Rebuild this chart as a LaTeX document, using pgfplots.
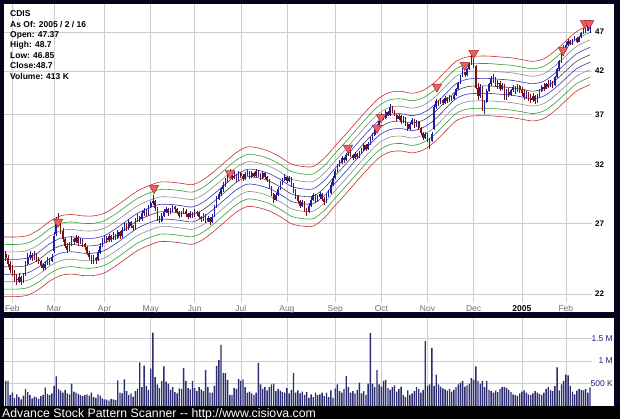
\documentclass[border=0pt]{standalone}
\usepackage{fontspec}
\setmainfont{Liberation Sans}
\usepackage{xcolor}
\usepackage{pgfplots}
\usepackage{pgfplotstable}
\pgfplotsset{compat=1.18}

\definecolor{frame}{RGB}{4,4,30}
\definecolor{gridc}{RGB}{205,205,205}
\definecolor{upc}{RGB}{30,30,160}
\definecolor{dnc}{RGB}{124,16,16}
\definecolor{bred}{RGB}{200,48,48}
\definecolor{bgreen}{RGB}{48,160,48}
\definecolor{bgray}{RGB}{140,140,140}
\definecolor{bblue}{RGB}{53,53,192}
\definecolor{bmid}{RGB}{70,70,70}
\definecolor{volc}{RGB}{44,44,112}
\definecolor{voltxt}{RGB}{32,32,128}
\definecolor{trifill}{RGB}{232,96,96}
\definecolor{tridraw}{RGB}{170,40,40}

% day index (0 = 2 Feb 2004), open, high, low, close, volume in K
\pgfplotstableread{
i o h l c v
-3 24.7 24.9 24.2 24.4 560
-2 24.4 24.6 23.8 24.0 560
-1 24.0 24.2 23.4 23.6 240
0 23.7 23.9 23.2 23.5 300
1 23.5 23.6 22.8 23.0 180
2 23.0 23.3 22.6 22.9 260
3 22.8 23.4 22.7 23.1 200
4 23.1 23.2 22.6 22.8 150
5 22.8 23.4 22.7 23.2 230
6 23.3 24.2 23.2 24.0 380
7 24.0 24.8 23.9 24.5 310
8 24.5 24.9 24.3 24.6 240
9 24.6 24.8 24.2 24.4 170
10 24.4 24.9 24.3 24.7 210
11 24.7 24.8 24.1 24.3 190
12 24.3 24.5 24.0 24.2 160
13 24.2 24.3 23.7 23.9 220
14 23.9 24.0 23.5 23.7 250
15 23.7 24.2 23.6 24.0 410
16 24.0 24.5 23.9 24.3 270
17 24.3 24.4 23.9 24.2 240
18 24.2 24.7 24.1 24.5 280
19 24.9 26.3 24.8 26.0 450
20 26.2 27.5 26.0 27.3 660
21 27.3 27.8 26.8 27.0 380
22 27.0 27.1 26.2 26.4 340
23 26.4 26.6 25.6 25.8 300
24 25.8 25.9 25.1 25.3 360
25 25.3 25.5 24.8 25.0 280
26 25.0 25.6 24.9 25.4 260
27 25.4 26.0 25.3 25.8 500
28 25.8 25.9 25.4 25.6 320
29 25.6 26.1 25.5 25.9 300
30 25.9 26.0 25.3 25.5 270
31 25.5 25.9 25.4 25.7 250
32 25.7 25.8 25.2 25.4 220
33 25.4 25.5 25.0 25.2 240
34 25.2 25.3 24.6 24.8 260
35 24.8 24.9 24.3 24.5 230
36 24.5 24.6 24.0 24.2 300
37 24.2 24.6 24.0 24.4 200
38 24.4 24.5 24.0 24.3 180
39 24.3 25.0 24.2 24.8 260
40 24.8 25.5 24.7 25.3 230
41 25.3 25.9 25.2 25.7 170
42 25.7 26.1 25.5 25.9 150
43 25.9 26.0 25.5 25.7 140
44 25.7 26.2 25.6 26.0 120
45 26.0 26.1 25.6 25.8 160
46 25.8 26.3 25.7 26.1 150
47 26.1 26.2 25.7 25.9 130
48 25.9 26.5 25.8 26.3 570
49 26.3 26.4 25.8 26.0 300
50 26.0 26.7 25.9 26.5 280
51 26.5 27.1 26.4 26.9 590
52 26.9 27.0 26.4 26.6 330
53 26.6 27.3 26.5 27.1 240
54 27.1 27.2 26.6 26.8 280
55 26.8 26.9 26.4 26.6 210
56 26.6 27.4 26.5 27.2 330
57 27.2 27.7 27.1 27.5 380
58 27.5 27.6 27.1 27.3 970
59 27.3 28.0 27.2 27.8 420
60 27.8 28.2 27.6 28.0 900
61 28.0 28.1 27.5 27.7 450
62 27.7 28.5 27.6 28.3 360
63 28.3 28.8 28.2 28.6 830
64 28.6 29.3 28.5 28.8 1630
65 28.8 28.9 28.0 28.2 640
66 28.2 28.3 27.2 27.4 480
67 27.4 27.6 27.0 27.2 400
68 27.2 27.8 27.1 27.6 560
69 27.6 28.1 27.5 27.9 880
70 27.9 28.3 27.8 28.1 540
71 28.1 28.2 27.6 27.8 500
72 27.8 28.2 27.7 28.0 360
73 28.0 28.5 27.9 28.3 420
74 28.3 28.4 27.9 28.1 310
75 28.1 28.2 27.7 27.9 280
76 27.9 28.0 27.4 27.6 390
77 27.6 28.0 27.5 27.8 380
78 27.8 28.2 27.7 28.0 840
79 28.0 28.1 27.5 27.7 560
80 27.7 27.8 27.3 27.5 400
81 27.5 28.0 27.4 27.8 370
82 27.8 27.9 27.4 27.6 560
83 27.6 28.1 27.5 27.9 400
84 27.9 28.0 27.6 27.8 330
85 27.8 27.9 27.3 27.5 420
86 27.5 27.6 27.1 27.3 370
87 27.3 27.8 27.2 27.6 330
88 27.6 27.7 27.0 27.2 800
89 27.2 27.6 27.1 27.4 420
90 27.4 27.5 26.9 27.1 300
91 27.1 27.7 27.0 27.5 300
92 27.6 28.5 27.5 28.3 450
93 28.3 29.2 28.2 29.0 890
94 29.0 29.6 28.9 29.4 1020
95 29.4 30.0 29.2 29.8 1360
96 29.8 30.4 29.6 30.2 730
97 30.2 30.8 30.0 30.6 730
98 30.6 31.1 30.4 30.9 580
99 30.9 31.6 30.8 31.3 240
100 31.3 31.4 30.6 30.8 250
101 30.8 31.3 30.7 31.0 400
102 31.0 31.1 30.4 30.6 380
103 30.6 31.4 30.5 31.2 600
104 31.2 31.3 30.8 31.0 560
105 31.0 31.1 30.5 30.7 590
106 30.7 31.3 30.6 31.1 420
107 31.1 31.5 31.0 31.3 300
108 31.3 31.4 30.7 30.9 320
109 30.9 31.4 30.8 31.2 280
110 31.2 31.3 30.8 31.0 250
111 31.0 31.6 30.9 31.4 300
112 31.4 31.5 30.9 31.1 960
113 31.1 31.2 30.6 30.8 480
114 30.8 31.4 30.7 31.2 380
115 31.2 31.3 30.7 30.9 420
116 30.9 31.0 30.4 30.6 350
117 30.6 30.7 29.8 30.0 420
118 30.0 30.1 29.2 29.4 480
119 29.4 29.5 28.6 28.9 500
120 28.9 29.5 28.8 29.3 330
121 29.3 30.0 29.2 29.8 380
122 29.8 30.5 29.7 30.3 340
123 30.3 30.8 30.2 30.6 310
124 30.6 31.1 30.5 30.9 300
125 30.9 31.0 30.3 30.5 400
126 30.5 31.0 30.4 30.8 280
127 30.8 30.9 30.0 30.2 360
128 30.2 30.3 29.5 29.7 730
129 29.7 29.8 29.0 29.2 300
130 29.2 29.3 28.6 28.8 350
131 28.8 28.9 28.2 28.4 280
132 28.4 28.9 28.3 28.7 320
133 28.7 28.8 27.9 28.1 250
134 28.1 28.2 27.6 27.9 310
135 27.9 28.6 27.8 28.4 180
136 28.4 29.1 28.3 28.9 260
137 28.9 29.5 28.8 29.3 200
138 29.3 29.4 28.6 28.8 300
139 28.8 29.3 28.7 29.1 240
140 29.1 29.6 29.0 29.4 260
141 29.4 29.5 28.8 29.0 300
142 29.0 29.1 28.5 28.7 220
143 28.7 29.4 28.6 29.2 300
144 29.2 29.7 29.1 29.5 200
145 29.5 30.4 29.4 30.2 350
146 30.2 31.0 30.1 30.8 180
147 30.8 31.6 30.7 31.4 390
148 31.4 32.1 31.3 31.9 480
149 31.9 32.4 31.8 32.2 330
150 32.2 32.8 32.1 32.6 300
151 32.6 32.7 32.2 32.4 380
152 32.4 33.1 32.3 32.9 670
153 32.9 33.6 32.8 33.3 420
154 33.3 33.4 32.7 32.9 300
155 32.9 33.0 32.4 32.6 330
156 32.6 33.2 32.5 33.0 280
157 33.0 33.1 32.5 32.7 360
158 32.7 33.3 32.6 33.1 520
159 33.1 33.6 33.0 33.4 280
160 33.4 34.1 33.3 33.9 330
161 33.9 34.0 33.3 33.5 250
162 33.5 34.2 33.4 34.0 500
163 34.0 34.7 33.9 34.5 1620
164 34.5 35.1 34.4 34.9 500
165 34.9 35.6 34.8 35.4 420
166 35.4 36.0 35.3 35.8 800
167 35.8 36.5 35.7 36.3 480
168 36.3 37.2 36.2 37.0 430
169 37.0 37.1 36.4 36.6 560
170 36.6 37.5 36.5 37.3 580
171 37.3 37.4 36.8 37.0 400
172 37.0 38.2 36.9 37.8 360
173 37.8 37.9 37.2 37.4 420
174 37.4 37.5 36.8 37.0 460
175 37.0 37.1 36.3 36.5 320
176 36.5 37.1 36.4 36.9 380
177 36.9 37.0 36.0 36.2 430
178 36.2 36.8 36.1 36.6 250
179 36.6 36.7 35.8 36.0 200
180 36.0 36.1 35.3 35.5 350
181 35.5 36.2 35.4 36.0 250
182 36.0 36.6 35.9 36.4 280
183 36.4 36.5 35.6 35.8 330
184 35.8 36.4 35.7 36.2 420
185 36.2 36.3 35.4 35.6 380
186 35.6 35.7 34.9 35.1 300
187 35.1 35.2 34.4 34.6 360
188 34.6 35.2 34.5 35.0 1440
189 35.0 35.1 34.2 34.5 450
190 34.5 34.6 33.5 34.3 480
191 34.3 35.2 34.2 35.0 1290
192 35.5 38.0 35.4 37.8 450
193 37.8 38.7 37.6 38.5 700
194 38.5 38.6 37.9 38.2 480
195 38.2 38.8 38.1 38.6 430
196 38.6 38.7 38.0 38.3 390
197 38.3 39.0 38.2 38.8 370
198 38.8 38.9 38.3 38.5 340
199 38.5 39.2 38.4 39.0 380
200 39.0 39.1 38.5 38.7 320
201 38.7 39.4 38.6 39.2 360
202 39.2 40.0 39.1 39.8 420
203 39.8 40.7 39.7 40.5 480
204 40.5 41.5 40.4 41.3 520
205 41.3 42.3 41.2 41.8 560
206 41.8 41.9 41.2 41.5 430
207 41.5 42.4 41.4 42.2 460
208 42.2 43.0 42.1 42.8 500
209 42.8 44.0 42.7 43.5 620
210 43.5 43.6 42.4 42.6 580
211 42.6 42.7 39.8 40.0 880
212 40.0 40.6 38.6 39.0 560
213 39.0 40.4 38.8 40.1 500
214 40.1 40.2 37.4 37.8 560
215 37.8 38.6 37.1 38.4 420
216 38.4 39.8 38.3 39.6 560
217 39.6 40.6 39.5 40.4 360
218 40.4 41.4 40.2 41.0 330
219 41.0 41.6 40.5 40.8 300
220 40.8 41.2 40.1 40.4 340
221 40.4 40.9 39.8 40.6 310
222 40.6 40.8 39.6 39.9 380
223 39.9 40.5 39.7 40.3 420
224 40.3 40.4 38.6 38.9 420
225 38.9 39.8 38.6 39.5 400
226 39.5 40.0 38.9 39.2 360
227 39.2 39.9 39.0 39.7 310
228 39.7 40.3 39.5 40.1 260
229 40.1 40.2 39.3 39.6 240
230 39.6 40.4 39.5 40.2 220
231 40.2 40.3 39.4 39.7 280
232 39.7 40.1 39.1 39.4 320
233 39.4 39.8 38.6 38.9 350
234 38.9 39.6 38.7 39.4 300
235 39.4 39.5 38.5 38.8 260
236 38.8 39.3 38.3 38.6 240
237 38.6 39.4 38.4 39.1 280
238 39.1 39.2 38.2 38.5 330
239 38.5 39.3 38.3 39.0 300
240 39.0 39.8 38.9 39.6 270
241 39.6 40.3 39.5 40.1 250
242 40.1 40.5 39.6 39.9 300
243 39.9 40.6 39.8 40.4 380
244 40.4 40.9 40.0 40.2 420
245 40.2 40.9 40.1 40.7 360
246 40.7 40.8 40.0 40.3 330
247 40.3 41.4 40.2 41.2 450
248 41.2 42.4 41.1 42.2 860
249 42.2 43.4 42.0 43.2 350
250 43.2 44.3 43.0 44.0 480
251 44.0 45.2 43.8 44.9 560
252 44.9 45.6 44.6 45.3 700
253 45.3 46.0 45.1 45.8 680
254 45.8 45.9 45.2 45.4 450
255 45.4 46.1 45.3 45.9 320
256 45.9 46.4 45.8 46.2 260
257 46.2 46.3 45.5 45.7 340
258 45.7 46.5 45.6 46.3 380
259 46.3 47.0 46.2 46.8 360
260 46.8 47.6 46.7 47.4 350
261 47.4 47.5 46.9 47.2 380
262 47.2 48.1 47.1 47.9 300
263 47.37 48.7 46.85 48.7 413
}\prices

% centre of the envelope bands
\pgfplotstableread{
i m
-4 23.8
2 23.8
7 23.9
12 24.3
17 24.9
22 25.3
27 25.4
32 25.3
37 25.3
42 25.5
47 26.0
52 26.6
57 27.2
62 27.6
67 27.9
72 27.9
77 27.8
82 27.7
87 28.1
92 28.8
97 29.6
102 30.4
107 30.9
112 30.8
117 30.5
122 30.0
127 29.4
132 29.2
137 29.2
142 29.9
147 31.0
152 32.1
157 33.3
162 34.5
167 35.6
172 36.2
177 36.3
182 36.1
187 36.4
192 37.2
197 38.4
202 39.6
207 40.1
212 40.2
217 40.2
222 40.1
227 40.0
232 39.8
237 39.6
242 39.9
247 40.8
252 42.0
257 43.2
263 44.0
}\bands

% sell signals
\pgfplotstableread{
i p
20.8 27.1
64.5 29.9
99.1 31.2
152.8 33.6
166 35.6
167.8 36.7
193.3 40.1
206 42.7
210 44.2
250.7 44.6
260.7 48.2
262.6 48.2
}\signals

\pgfplotsset{
  panel/.style={scale only axis, width=588pt, xmin=-3.8, xmax=263.9,
    axis line style={draw=none}, tick style={draw=none},
    xmajorgrids, ymajorgrids, grid style={gridc, line width=0.5pt},
    xtick={0,19,42,63,83,104,125,147,168,189,210,232,252}},
  band/.style={smooth, line width=0.6pt, mark=none},
  candle/.style={only marks, mark=*, mark size=0.01pt,
    mark options={draw=none, fill=none, opacity=0},
    error bars/.cd, y dir=plus, y explicit, error mark=none},
}

\begin{document}
\begin{tikzpicture}
\fill[frame] (0pt,0pt) rectangle (620pt,-419pt);
\fill[white] (4pt,-4pt) rectangle (614pt,-312pt);
\fill[white] (4pt,-318pt) rectangle (614pt,-406pt);
\fill[black] (0pt,-406pt) rectangle (620pt,-419pt);

% price panel: y is the natural log of the price
\begin{axis}[panel, at={(4pt,-302pt)}, anchor=south west, height=298pt,
  ymin=3.0675, ymax=3.9313, clip=false,
  ytick={3.09104,3.29584,3.46574,3.61092,3.73767,3.85015},
  yticklabels={22,27,32,37,42,47},
  yticklabel pos=right,
  yticklabel style={anchor=west, inner sep=0pt, xshift=3pt,
    font=\fontsize{8}{9}\selectfont\bfseries},
  xticklabels={Feb,Mar,Apr,May,Jun,Jul,Aug,Sep,Oct,Nov,Dec,{\textbf{\color{black}2005}},Feb},
  xticklabel style={anchor=north, inner sep=0pt, yshift=-3pt,
    text=black!55, font=\fontsize{8.5}{9}\selectfont},
]
\addplot[band, bred] table[x=i, y expr=ln(\thisrow{m})+0.0864] {\bands};
\addplot[band, bgreen] table[x=i, y expr=ln(\thisrow{m})+0.0648] {\bands};
\addplot[band, bgray] table[x=i, y expr=ln(\thisrow{m})+0.0432] {\bands};
\addplot[band, bblue] table[x=i, y expr=ln(\thisrow{m})+0.0216] {\bands};
\addplot[band, bmid] table[x=i, y expr=ln(\thisrow{m})] {\bands};
\addplot[band, bblue] table[x=i, y expr=ln(\thisrow{m})-0.0216] {\bands};
\addplot[band, bgray] table[x=i, y expr=ln(\thisrow{m})-0.0432] {\bands};
\addplot[band, bgreen] table[x=i, y expr=ln(\thisrow{m})-0.0648] {\bands};
\addplot[band, bred] table[x=i, y expr=ln(\thisrow{m})-0.0864] {\bands};

% wicks
\addplot[candle, error bar style={upc, line width=0.6pt}]
  table[x=i, y expr=ln(\thisrow{l}),
    y error plus expr={(\thisrow{c}>=\thisrow{o})*(ln(\thisrow{h})-ln(\thisrow{l}))}] {\prices};
\addplot[candle, error bar style={dnc, line width=0.6pt}]
  table[x=i, y expr=ln(\thisrow{l}),
    y error plus expr={(\thisrow{c}<\thisrow{o})*(ln(\thisrow{h})-ln(\thisrow{l}))}] {\prices};
% bodies
\addplot[candle, error bar style={upc, line width=1.6pt}]
  table[x=i, y expr=ln(\thisrow{o}),
    y error plus expr={(\thisrow{c}>=\thisrow{o})*(ln(\thisrow{c})-ln(\thisrow{o}))}] {\prices};
\addplot[candle, error bar style={dnc, line width=1.6pt}]
  table[x=i, y expr=ln(\thisrow{c}),
    y error plus expr={(\thisrow{c}<\thisrow{o})*(ln(\thisrow{o})-ln(\thisrow{c}))}] {\prices};

\addplot[only marks, mark=triangle*, mark size=5.5pt,
  mark options={rotate=180, fill=trifill, draw=tridraw, line width=0.5pt}]
  table[x=i, y expr=ln(\thisrow{p})] {\signals};
\end{axis}

\begin{axis}[panel, at={(4pt,-406pt)}, anchor=south west, height=88pt,
  ymin=0, ymax=1955, xticklabels={},
  ytick={500,1000,1500}, yticklabels={500 K,1 M,1.5 M},
  yticklabel pos=right, scaled y ticks=false,
  yticklabel style={anchor=east, inner sep=0pt, xshift=21pt,
    text=voltxt, font=\fontsize{8.5}{9}\selectfont},
]
\addplot[ybar, bar width=1.4pt, fill=volc, draw=none] table[x=i, y=v] {\prices};
\end{axis}

\begin{scope}[font=\fontsize{8.5}{10}\selectfont\bfseries]
\node[anchor=base west, inner sep=0pt] at (10pt,-16.7pt) {CDIS};
\node[anchor=base west, inner sep=0pt] at (10pt,-27.1pt) {As Of: 2005 / 2 / 16};
\node[anchor=base west, inner sep=0pt] at (10pt,-37.5pt) {Open: 47.37};
\node[anchor=base west, inner sep=0pt] at (10pt,-47.9pt) {High: 48.7};
\node[anchor=base west, inner sep=0pt] at (10pt,-58.3pt) {Low: 46.85};
\node[anchor=base west, inner sep=0pt] at (10pt,-68.7pt) {Close:48.7};
\node[anchor=base west, inner sep=0pt] at (10pt,-79.1pt) {Volume: 413 K};
\end{scope}
\node[anchor=base west, inner sep=0pt, text=white, font=\fontsize{12.3}{14}\selectfont]
  at (2pt,-417pt) {Advance Stock Pattern Scanner -{}- http://www.cisiova.com};
\end{tikzpicture}
\end{document}
